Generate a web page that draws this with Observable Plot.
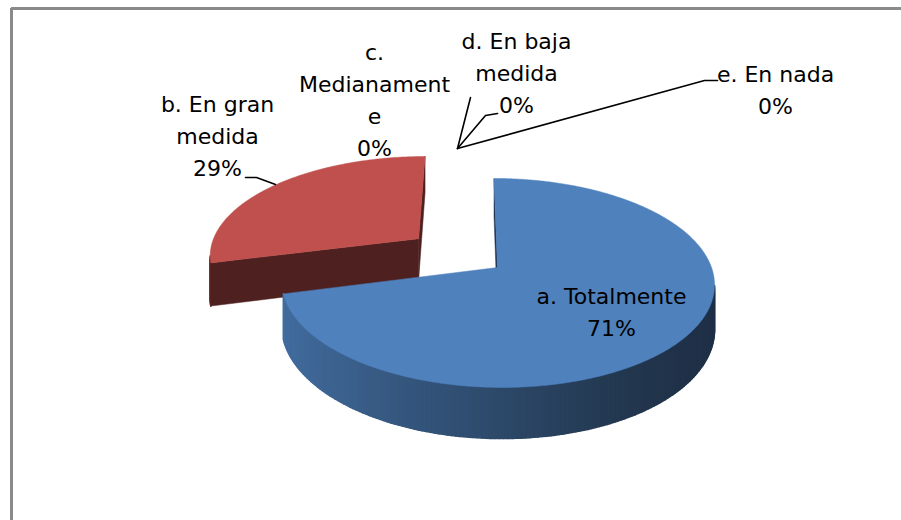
<!DOCTYPE html>
<html><head><meta charset="utf-8">
<script src="https://cdn.jsdelivr.net/npm/d3@7"></script>
<script src="https://cdn.jsdelivr.net/npm/@observablehq/plot@0.6"></script>
<style>html,body{margin:0;padding:0;background:#fff;} #chart svg{display:block}</style>
</head><body><div id="chart"></div>
<script>
// ---- data ----
const categories = ["a. Totalmente", "b. En gran medida", "c. Medianamente", "d. En baja medida", "e. En nada"];
const percentages = [71, 29, 0, 0, 0];
// label text as wrapped in the original chart
const labelNameLines = [["a. Totalmente"], ["b. En gran", "medida"], ["c.", "Medianament", "e"], ["d. En baja", "medida"], ["e. En nada"]];

// ---- layout / style ----
const W = 901, H = 520;
const cam = {X0: 470, Xc: 497, Yc: 267, k: 214, h: 102.2, p: 0.148, depth: 43.5};
const explode = [0, 0.48, 0, 0, 0];
const topColors = ["#4F81BD", "#C0504D", "#9BBB59", "#8064A2", "#4BACC6"];
const radialColors = ["#1F3552", "#4F2020", "#3c4a22", "#33283f", "#1d444e"];
const wallStops = [
  ["#426DA0", "#36587F", "#2D4A6C", "#23384F", "#1E2F46"],
  ["#5a2624", "#4F2020", "#4a1e1e", "#401a1a", "#3a1717"]
];
const labelAt = [[611, 296], [217, 104], [374, 52], [516, 41], [775, 74]];
const lineGap = 32;
const leaders = [
  [[245, 177], [256, 177], [275, 184]],
  [[457, 148], [470, 97]],
  [[457, 148], [485, 115], [497, 113]],
  [[457, 148], [704, 80], [717, 80]]
];

// ---- geometry ----
function proj(u, v, z) {
  const w = 1 + cam.p * v;
  return {x: cam.X0 + (cam.Xc - cam.X0 + cam.k * u) / w, y: cam.Yc + (-cam.h * v + z) / w};
}
function area(pts) {
  let s = 0;
  for (let i = 0; i < pts.length; i++) {
    const a = pts[i], b = pts[(i + 1) % pts.length];
    s += a.x * b.y - b.x * a.y;
  }
  return s / 2;
}
const arcs = d3.pie().sort(null).value(d => d)(percentages)
  .map((a, i) => ({...a, i}))
  .filter(a => a.value > 0);

const polys = [];
const ordered = arcs.map(a => {
  const mid = (a.startAngle + a.endAngle) / 2;
  const e = explode[a.i];
  const ou = e * Math.sin(mid), ov = e * Math.cos(mid);
  return {...a, mid, ou, ov, depthKey: ov + 0.5 * Math.cos(mid)};
}).sort((a, b) => b.depthKey - a.depthKey);

// wall x-extent for shading
const xmin = proj(-1, -0.25, 0).x, xmax = proj(1, -0.15, 0).x;

for (const s of ordered) {
  const pt = (phi, r, z) => proj(s.ou + r * Math.sin(phi), s.ov + r * Math.cos(phi), z);
  const D = cam.depth;
  const grad = d3.interpolateRgbBasis(wallStops[Math.min(s.i, 1)]);
  // outer wall
  const n = Math.max(2, Math.ceil((s.endAngle - s.startAngle) / (Math.PI / 180)));
  for (let j = 0; j < n; j++) {
    const pa = s.startAngle + (s.endAngle - s.startAngle) * j / n;
    const pb = s.startAngle + (s.endAngle - s.startAngle) * (j + 1) / n;
    const q = [pt(pa, 1, 0), pt(pb, 1, 0), pt(pb, 1, D), pt(pa, 1, D)];
    if (area(q) < 0) {
      const t = Math.max(0, Math.min(1, ((q[0].x + q[1].x) / 2 - xmin) / (xmax - xmin)));
      const c = grad(t);
      polys.push({pts: q, fill: c, stroke: c, sw: 1.6});
    }
  }
  // radial faces
  const f1 = [pt(0, 0, 0), pt(s.startAngle, 1, 0), pt(s.startAngle, 1, D), pt(0, 0, D)];
  const f2 = [pt(s.endAngle, 1, 0), pt(0, 0, 0), pt(0, 0, D), pt(s.endAngle, 1, D)];
  for (const f of [f1, f2]) if (area(f) < 0) polys.push({pts: f, fill: radialColors[s.i], stroke: radialColors[s.i], sw: 0.5});
  // top
  const topPts = [pt(0, 0, 0)];
  const m = Math.ceil((s.endAngle - s.startAngle) / (Math.PI / 360));
  for (let j = 0; j <= m; j++) topPts.push(pt(s.startAngle + (s.endAngle - s.startAngle) * j / m, 1, 0));
  polys.push({pts: topPts, fill: topColors[s.i], stroke: topColors[s.i], sw: 0.5});
}

// labels
const textData = [];
percentages.forEach((v, i) => {
  const lines = [...labelNameLines[i], `${v}%`];
  lines.forEach((t, j) => textData.push({x: labelAt[i][0], y: labelAt[i][1] + j * lineGap, text: t}));
});

const marks = [
  Plot.ruleY([8], {x1: 11, x2: W, stroke: "#8a8a8a", strokeWidth: 3}),
  Plot.ruleX([11], {y1: 8, y2: H, stroke: "#8a8a8a", strokeWidth: 3}),
  ...polys.map(p => Plot.line([...p.pts, p.pts[0]], {x: "x", y: "y", fill: p.fill, stroke: p.stroke, strokeWidth: p.sw, curve: "linear"})),
  ...leaders.map(l => Plot.line(l.map(([x, y]) => ({x, y})), {x: "x", y: "y", stroke: "#000", strokeWidth: 1.6})),
  Plot.text(textData, {x: "x", y: "y", text: "text", fontSize: 22, fontFamily: "DejaVu Sans", fill: "#000", textAnchor: "middle"})
];

const chart = Plot.plot({
  width: W, height: H, margin: 0,
  x: {domain: [0, W], range: [0, W], axis: null},
  y: {domain: [0, H], range: [0, H], axis: null},
  style: {background: "#fff"},
  marks
});
document.getElementById("chart").appendChild(chart);
</script>
</body></html>
